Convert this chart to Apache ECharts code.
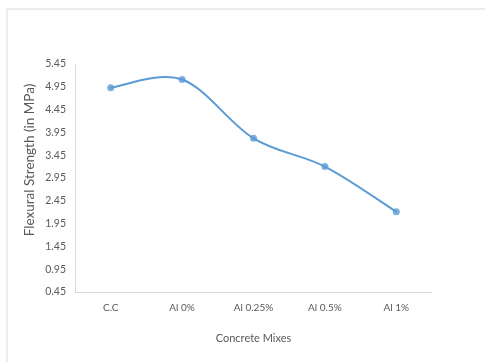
<!DOCTYPE html>
<html>
<head>
<meta charset="utf-8">
<script src="https://cdn.jsdelivr.net/npm/echarts@6/dist/echarts.min.js"></script>
<style>
  html, body { margin: 0; padding: 0; background: #ffffff; }
  #chart { width: 485px; height: 362px; }
</style>
</head>
<body>
<div id="chart"></div>
<script>
// Concrete mixes on the x axis and their flexural strength (MPa)
const mixes = ['C.C', 'Al 0%', 'Al 0.25%', 'Al 0.5%', 'Al 1%'];
const flexuralStrength = [4.93, 5.11, 3.82, 3.20, 2.21];
const yMin = 0.45;
const yMax = 5.45;
const yStep = 0.5;

const font = 'Lato, "Liberation Sans", sans-serif';
const textGray = '#595959';
const lineBlue = '#5b9bd5';

const points = flexuralStrength.map((v, i) => [i, v]);

// One cubic segment per point pair, Catmull-Rom style tangents (1/6 of the
// neighbour span), so the curve may rise above a peak point like a spreadsheet line.
function renderSegment(params, api) {
  const i = params.dataIndex;
  const n = points.length;
  if (i >= n - 1) return null;
  const c = k => api.coord(points[Math.max(0, Math.min(n - 1, k))]);
  const p0 = c(i - 1), p1 = c(i), p2 = c(i + 1), p3 = c(i + 2);
  const t = 1 / 6;
  return {
    type: 'bezierCurve',
    shape: {
      x1: p1[0], y1: p1[1],
      x2: p2[0], y2: p2[1],
      cpx1: p1[0] + (p2[0] - p0[0]) * t, cpy1: p1[1] + (p2[1] - p0[1]) * t,
      cpx2: p2[0] - (p3[0] - p1[0]) * t, cpy2: p2[1] - (p3[1] - p1[1]) * t
    },
    style: { fill: null, stroke: lineBlue, lineWidth: 2, lineCap: 'round' },
    silent: true
  };
}

const chart = echarts.init(document.getElementById('chart'), null, { renderer: 'canvas' });

chart.setOption({
  backgroundColor: '#ffffff',
  animation: false,
  graphic: [{
    type: 'rect',
    shape: { x: 7, y: 9, width: 520, height: 400 },
    style: { fill: 'none', stroke: '#d9d9d9', lineWidth: 1 },
    silent: true
  }],
  grid: { left: 75, right: 53, top: 64, bottom: 70, containLabel: false },
  xAxis: {
    type: 'category',
    data: mixes,
    boundaryGap: true,
    name: 'Concrete Mixes',
    nameLocation: 'middle',
    nameGap: 41,
    nameTextStyle: { fontFamily: font, fontSize: 11, color: textGray },
    axisLine: { lineStyle: { color: '#d9d9d9', width: 1 } },
    axisTick: { show: false },
    axisLabel: { fontFamily: font, fontSize: 10, color: textGray, margin: 11 },
    splitLine: { show: false }
  },
  yAxis: {
    type: 'value',
    min: yMin,
    max: yMax,
    interval: yStep,
    name: 'Flexural Strength (in MPa)',
    nameLocation: 'middle',
    nameGap: 38,
    nameMoveOverlap: false,
    nameTextStyle: { fontFamily: font, fontSize: 13.5, color: textGray, padding: [0, 0, 0, 36] },
    axisLine: { show: true, lineStyle: { color: '#d9d9d9', width: 1 } },
    axisTick: { show: false },
    axisLabel: {
      fontFamily: font, fontSize: 10.5, color: textGray, margin: 9,
      formatter: v => v.toFixed(2)
    },
    splitLine: { show: false }
  },
  series: [{
    type: 'custom',
    data: points,
    encode: { x: 0, y: 1 },
    renderItem: renderSegment,
    z: 2
  }, {
    type: 'scatter',
    data: points,
    symbol: 'circle',
    symbolSize: 7,
    itemStyle: { color: lineBlue },
    z: 3
  }]
});
</script>
</body>
</html>
